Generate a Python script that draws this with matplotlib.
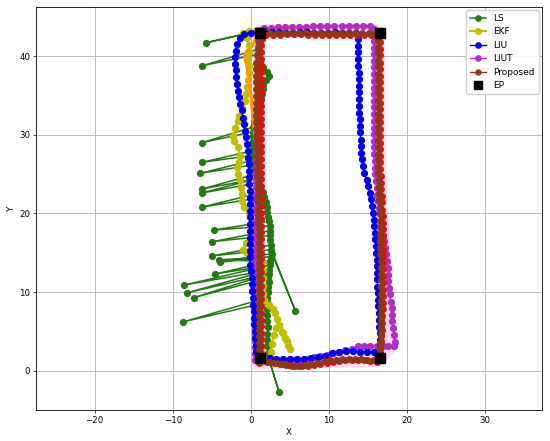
import matplotlib
matplotlib.use("Agg")
import matplotlib.pyplot as plt

# 端点 (EP)
ep_x = [1.2, 16.5, 16.5, 1.2]
ep_y = [42.9, 42.9, 1.6, 1.6]

# 背景の帯 (ピンク)
band_pts = [(1.0, 1.0), (1.0, 43.2), (16.3, 43.2), (16.5, 25.0), (17.3, 10.0),
            (17.8, 3.0), (16.5, 1.3), (1.0, 1.0)]

# LS
ls_pts = [(2.4, 1.2), (3.6, -2.7), (2.3, 1.5), (2.2, 2.3), (2.1, 3.1), (2.0, 3.9), (2.1, 4.7),
          (2.2, 5.5), (2.1, 6.3), (2.0, 7.1), (2.0, 7.9), (2.1, 8.7), (-8.7, 6.2), (2.1, 9.3),
          (2.2, 10.0), (2.2, 10.7), (2.3, 11.3), (2.2, 11.8), (-7.3, 9.3), (2.3, 12.3),
          (-8.2, 9.9), (2.3, 12.8), (-8.5, 10.9), (2.4, 13.4), (-4.6, 12.3), (2.5, 13.9),
          (-4.1, 14.1), (2.6, 14.5), (-4.0, 13.8), (2.7, 14.9), (5.7, 7.6), (2.6, 15.4),
          (-5.0, 14.6), (2.6, 16.0), (2.5, 16.6), (2.5, 17.2), (-5.0, 16.4), (2.4, 17.8),
          (2.4, 18.4), (-4.7, 17.9), (2.3, 19.0), (2.2, 19.6), (2.1, 20.2), (2.0, 20.8),
          (1.9, 21.5), (1.7, 22.1), (-6.3, 20.8), (1.5, 22.7), (1.2, 23.3), (0.9, 23.9),
          (-6.3, 22.6), (0.7, 24.4), (-6.3, 23.1), (0.6, 25.0), (0.5, 25.6), (0.4, 26.2),
          (-6.5, 25.1), (0.4, 26.8), (0.3, 27.4), (-6.3, 26.5), (0.3, 28.0), (0.3, 28.6),
          (0.3, 29.2), (0.3, 29.8), (0.3, 30.4), (-6.3, 29.0), (0.3, 31.0), (0.4, 31.6),
          (0.6, 32.2), (0.8, 32.8), (1.0, 33.4), (1.2, 34.0), (1.3, 34.6), (1.4, 35.2),
          (1.5, 35.8), (1.6, 36.4), (1.9, 37.0), (2.3, 37.5), (2.0, 38.0), (1.5, 38.6),
          (1.2, 39.2), (1.1, 39.8), (1.1, 40.3), (-6.2, 38.8), (1.0, 40.9), (1.0, 41.5),
          (1.0, 42.1), (1.0, 42.7), (1.1, 43.2), (-5.8, 41.7), (1.2, 43.3)]

# EKF
ekf_pts = [(2.5, 1.4), (2.6, 2.4), (2.7, 3.4), (2.9, 4.5), (3.2, 5.4), (3.6, 5.5), (4.0, 4.9),
           (4.4, 4.1), (4.8, 3.3), (5.0, 2.8), (4.6, 3.8), (4.1, 4.8), (3.6, 5.8), (3.3, 6.6),
           (3.1, 7.3), (2.8, 7.9), (2.3, 8.4), (1.7, 9.0), (1.5, 9.8), (1.5, 10.8), (1.6, 11.8),
           (1.6, 12.8), (1.5, 13.8), (1.0, 14.6), (-0.5, 15.0), (-1.0, 15.4), (-0.6, 16.3),
           (0.1, 17.1), (0.4, 18.0), (0.3, 19.0), (-0.2, 20.0), (-0.9, 20.8), (-1.1, 21.6),
           (-1.2, 22.5), (-1.3, 23.3), (-1.4, 24.2), (-1.6, 25.0), (-1.75, 25.9), (-1.5, 26.6),
           (-1.4, 27.3), (-1.6, 28.4), (-2.2, 29.2), (-2.3, 29.8), (-2.0, 30.9), (-1.7, 31.8),
           (-1.5, 32.4), (-1.1, 33.4), (-0.8, 34.3), (-0.6, 35.2), (-0.5, 36.1), (-0.4, 37.0),
           (-0.3, 37.9), (-0.3, 38.8), (-0.4, 39.6), (-0.3, 40.5), (-0.3, 41.4), (-0.5, 42.3),
           (-1.0, 43.0), (-0.2, 43.2), (0.8, 43.3)]

# オレンジの線
orange_pts = [(1.5, 0.8), (1.5, 3.0), (1.4, 6.0), (1.4, 9.0), (1.4, 12.0), (1.4, 15.0),
              (1.3, 18.0), (1.2, 21.0), (1.0, 24.0), (0.8, 27.0), (0.5, 30.0), (0.2, 33.0),
              (-0.1, 36.0), (-0.5, 38.8), (-0.8, 40.0), (-0.4, 40.8), (0.3, 41.5), (0.8, 42.5)]

# LIU
liu_pts = [(1.1, 1.6), (0.7, 2.5), (0.6, 3.3), (0.5, 4.2), (0.5, 5.0), (0.4, 5.9), (0.4, 6.7),
           (0.4, 7.6), (0.3, 8.4), (0.3, 9.3), (0.2, 10.1), (0.1, 11.0), (0.1, 11.8), (0.0, 12.7),
           (-0.1, 13.5), (-0.1, 14.4), (-0.1, 15.2), (-0.1, 16.1), (-0.1, 16.9), (-0.1, 17.8),
           (-0.1, 18.6), (-0.1, 19.5), (-0.1, 20.3), (-0.1, 21.2), (-0.1, 22.0), (-0.15, 22.9),
           (-0.2, 23.7), (-0.2, 24.6), (-0.2, 25.4), (-0.3, 26.3), (-0.35, 27.1), (-0.4, 28.0),
           (-0.5, 28.8), (-0.6, 29.7), (-0.7, 30.5), (-0.85, 31.4), (-1.0, 32.2), (-1.2, 33.1),
           (-1.35, 33.9), (-1.5, 34.8), (-1.6, 35.6), (-1.75, 36.5), (-1.85, 37.3), (-1.9, 38.2),
           (-2.0, 39.0), (-2.0, 39.9), (-1.9, 40.7), (-1.8, 41.6), (-1.4, 42.3), (-0.9, 42.8),
           (0.0, 43.0), (0.9, 43.0), (1.8, 43.1), (2.7, 43.1), (3.6, 43.1), (4.5, 43.0),
           (5.4, 43.0), (6.3, 43.1), (7.2, 43.1), (8.1, 43.0), (9.0, 43.0), (9.9, 43.0),
           (10.8, 43.1), (11.7, 43.0), (12.6, 43.0), (13.4, 42.9),
           (13.7, 42.2), (13.7, 41.3), (13.7, 40.5), (13.75, 39.6), (13.75, 38.8), (13.8, 37.9),
           (13.8, 37.1), (13.8, 36.2), (13.85, 35.4), (13.85, 34.5), (13.9, 33.7), (13.9, 32.8),
           (13.95, 32.0), (13.95, 31.1), (14.0, 30.3), (14.05, 29.4), (14.1, 28.6), (14.15, 27.7),
           (14.2, 26.9), (14.35, 26.0), (14.5, 25.2), (14.8, 24.3), (15.0, 23.5), (15.2, 22.6),
           (15.35, 21.8), (15.5, 20.9), (15.6, 20.1), (15.7, 19.2), (15.8, 18.4), (15.9, 17.5),
           (15.95, 16.7), (16.0, 15.8), (16.05, 15.0), (16.1, 14.1), (16.1, 13.3), (16.15, 12.4),
           (16.2, 11.6), (16.2, 10.7), (16.25, 9.9), (16.3, 9.0), (16.3, 8.2), (16.35, 7.3),
           (16.4, 6.5), (16.45, 5.6), (16.5, 4.8), (16.5, 3.9), (16.5, 3.1), (16.5, 2.3),
           (15.7, 2.4), (14.9, 2.4), (14.0, 2.4), (13.1, 2.5), (12.2, 2.5), (11.3, 2.4),
           (10.4, 2.2), (9.5, 1.9), (8.6, 1.7), (7.7, 1.6), (6.8, 1.5), (5.9, 1.5), (5.0, 1.45),
           (4.1, 1.5), (3.2, 1.55), (2.4, 1.6)]

# LIUT
liut_pts = [(0.5, 1.3), (0.5, 2.1), (0.5, 3.0), (0.5, 3.8), (0.5, 4.7), (0.5, 5.5), (0.5, 6.4),
            (0.5, 7.2), (0.5, 8.1), (0.5, 8.9), (0.5, 9.8), (0.5, 10.6), (0.5, 11.5), (0.5, 12.3),
            (0.5, 13.2), (0.5, 14.0), (0.5, 14.9), (0.6, 15.7), (0.6, 16.6), (0.6, 17.4),
            (0.6, 18.3), (0.6, 19.1), (0.6, 20.0), (0.6, 20.8), (0.7, 21.7), (0.7, 22.5),
            (0.7, 23.4), (0.7, 24.2), (0.7, 25.1), (0.7, 25.9), (0.7, 26.8), (0.8, 27.6),
            (0.8, 28.5), (0.8, 29.3), (0.8, 30.2), (0.8, 31.0), (0.8, 31.9), (0.8, 32.7),
            (0.9, 33.6), (0.9, 34.4), (0.9, 35.3), (0.9, 36.1), (0.9, 37.0), (0.9, 37.8),
            (0.9, 38.7), (0.9, 39.5), (0.9, 40.4), (0.9, 41.2), (0.9, 42.1), (1.0, 42.9),
            (1.7, 43.6), (2.6, 43.6), (3.5, 43.7), (4.4, 43.7), (5.3, 43.7), (6.2, 43.7),
            (7.1, 43.7), (8.0, 43.8), (8.9, 43.8), (9.8, 43.8), (10.7, 43.8), (11.6, 43.9),
            (12.5, 43.9), (13.4, 43.9), (14.3, 43.9), (15.2, 43.9), (15.8, 43.5),
            (15.8, 42.8), (15.8, 42.0), (15.8, 41.1), (15.8, 40.3), (15.8, 39.4), (15.8, 38.6),
            (15.8, 37.7), (15.8, 36.9), (15.8, 36.0), (15.8, 35.2), (15.8, 34.3), (15.8, 33.5),
            (15.8, 32.6), (15.8, 31.8), (15.8, 30.9), (15.8, 30.1), (15.8, 29.2), (15.8, 28.4),
            (15.8, 27.5), (15.85, 26.7), (15.9, 25.8), (15.9, 25.0), (16.0, 24.1), (16.1, 23.3),
            (16.2, 22.4), (16.3, 21.6), (16.4, 20.7), (16.5, 19.9), (16.6, 19.0), (16.7, 18.2),
            (16.85, 17.3), (17.0, 16.5), (17.15, 15.6), (17.3, 14.8), (17.4, 13.9), (17.5, 13.1),
            (17.55, 12.2), (17.6, 11.4), (17.7, 10.5), (17.8, 9.7), (17.9, 8.8), (18.0, 8.0),
            (18.05, 7.1), (18.1, 6.3), (18.2, 5.4), (18.3, 4.6), (18.4, 3.7),
            (18.3, 3.1), (17.6, 3.2), (16.9, 3.2), (16.1, 3.2), (15.3, 3.2), (14.5, 3.2),
            (13.7, 3.1), (12.9, 2.8), (12.1, 2.6), (11.3, 2.4), (10.5, 2.2), (9.7, 2.0),
            (8.9, 1.9), (8.1, 1.7), (7.3, 1.5), (6.5, 1.4), (5.7, 1.3), (4.9, 1.3), (4.1, 1.3),
            (3.3, 1.3), (2.5, 1.3), (1.7, 1.3)]

# 赤の点列
red_pts = [(1.3, 1.4), (1.35, 2.3), (1.3, 3.1), (1.35, 4.0), (1.3, 4.8), (1.35, 5.7), (1.3, 6.5),
           (1.35, 7.4), (1.3, 8.2), (1.35, 9.1), (1.3, 9.9), (1.35, 10.8), (1.3, 11.6),
           (1.35, 12.5), (1.3, 13.3), (1.35, 14.2), (1.3, 15.0), (1.35, 15.9), (1.3, 16.7),
           (1.35, 17.6), (1.3, 18.4), (1.35, 19.3), (1.3, 20.1), (1.35, 21.0), (1.3, 21.8),
           (1.35, 22.7), (1.3, 23.5), (1.35, 24.4), (1.3, 25.2), (1.35, 26.1), (1.3, 26.9),
           (1.35, 27.8), (1.3, 28.6), (1.35, 29.5), (1.3, 30.3), (1.35, 31.2), (1.3, 32.0),
           (1.35, 32.9), (1.3, 33.7), (1.35, 34.6), (1.3, 35.4), (1.35, 36.3), (1.3, 37.1),
           (1.35, 38.0), (1.3, 38.8), (1.35, 39.7), (1.3, 40.5), (1.35, 41.4), (1.4, 42.2),
           (1.9, 42.7), (2.8, 42.7), (3.7, 42.7), (4.6, 42.8), (5.5, 42.8), (6.4, 42.8),
           (7.3, 42.7), (8.2, 42.7), (9.1, 42.7), (10.0, 42.7), (10.9, 42.7), (11.8, 42.7),
           (12.7, 42.7), (13.6, 42.7), (14.5, 42.7), (15.4, 42.7), (16.3, 42.6),
           (16.5, 41.8), (16.5, 40.9), (16.5, 40.1), (16.5, 39.2), (16.5, 38.4), (16.5, 37.5),
           (16.5, 36.7), (16.5, 35.8), (16.5, 35.0), (16.5, 34.1), (16.5, 33.3), (16.5, 32.4),
           (16.5, 31.6), (16.5, 30.7), (16.5, 29.9), (16.5, 29.0), (16.5, 28.2), (16.5, 27.3),
           (16.5, 26.5), (16.5, 25.6), (16.6, 24.8), (16.65, 23.9), (16.7, 23.1), (16.75, 22.2),
           (16.8, 21.4), (16.8, 20.5), (16.85, 19.7), (16.85, 18.8), (16.9, 18.0), (16.9, 17.1),
           (16.9, 16.3), (16.9, 15.4), (16.9, 14.6), (16.9, 13.7), (16.9, 12.9), (16.9, 12.0),
           (16.9, 11.2), (16.9, 10.3), (16.9, 9.5), (16.85, 8.6), (16.85, 7.8), (16.8, 6.9),
           (16.8, 6.1), (16.75, 5.2), (16.7, 4.4), (16.6, 3.5), (16.5, 2.7), (16.4, 1.8),
           (16.1, 1.1), (15.3, 1.2), (14.5, 1.3), (13.7, 1.4), (12.9, 1.4), (12.1, 1.3),
           (11.3, 1.2), (10.5, 1.1), (9.7, 1.0), (8.9, 0.85), (8.1, 0.7), (7.3, 0.6),
           (6.5, 0.55), (5.7, 0.6), (4.9, 0.7), (4.1, 0.85), (3.3, 0.95), (2.5, 1.05)]

# 提案手法 (Proposed)
prop_pts = [(1.0, 1.0), (1.0, 1.8), (1.0, 2.7), (1.0, 3.5), (1.0, 4.4), (1.0, 5.2), (1.0, 6.1),
            (1.0, 6.9), (1.0, 7.8), (1.0, 8.6), (1.0, 9.5), (1.0, 10.3), (1.0, 11.2), (1.0, 12.0),
            (1.0, 12.9), (1.0, 13.7), (1.0, 14.6), (1.0, 15.4), (1.0, 16.3), (1.0, 17.1),
            (1.0, 18.0), (0.95, 18.8), (0.95, 19.7), (0.9, 20.5), (0.9, 21.4), (0.9, 22.2),
            (0.85, 23.1), (0.85, 23.9), (0.8, 24.8), (0.8, 25.6), (0.8, 26.5), (0.75, 27.3),
            (0.75, 28.2), (0.7, 29.0), (0.7, 29.9), (0.7, 30.7), (0.65, 31.6), (0.65, 32.4),
            (0.6, 33.3), (0.6, 34.1), (0.6, 35.0), (0.6, 35.8), (0.6, 36.7), (0.6, 37.5),
            (0.6, 38.4), (0.7, 39.2), (0.8, 40.1), (0.9, 40.9), (1.0, 41.8), (1.1, 42.6),
            (1.6, 42.9), (2.5, 42.9), (3.4, 42.9), (4.3, 43.0), (5.2, 43.0), (6.1, 43.0),
            (7.0, 43.0), (7.9, 42.9), (8.8, 42.9), (9.7, 42.9), (10.6, 42.9), (11.5, 42.9),
            (12.4, 42.9), (13.3, 42.9), (14.2, 42.9), (15.1, 42.9), (16.0, 42.8),
            (16.3, 42.1), (16.3, 41.2), (16.3, 40.4), (16.3, 39.5), (16.3, 38.7), (16.3, 37.8),
            (16.3, 37.0), (16.3, 36.1), (16.3, 35.3), (16.3, 34.4), (16.3, 33.6), (16.3, 32.7),
            (16.3, 31.9), (16.3, 31.0), (16.3, 30.2), (16.3, 29.3), (16.3, 28.5), (16.3, 27.6),
            (16.3, 26.8), (16.3, 25.9), (16.3, 25.1), (16.35, 24.2), (16.4, 23.4), (16.4, 22.5),
            (16.45, 21.7), (16.5, 20.8), (16.5, 20.0), (16.5, 19.1), (16.5, 18.3), (16.5, 17.4),
            (16.55, 16.6), (16.55, 15.7), (16.55, 14.9), (16.6, 14.0), (16.6, 13.2), (16.6, 12.3),
            (16.6, 11.5), (16.6, 10.6), (16.6, 9.8), (16.6, 8.9), (16.6, 8.1), (16.6, 7.2),
            (16.6, 6.4), (16.6, 5.5), (16.6, 4.7), (16.6, 3.8), (16.5, 3.0), (16.4, 2.1),
            (15.7, 1.3), (14.9, 1.4), (14.1, 1.5), (13.3, 1.5), (12.5, 1.5), (11.7, 1.45),
            (10.9, 1.4), (10.1, 1.3), (9.3, 1.2), (8.5, 1.0), (7.7, 0.85), (6.9, 0.7),
            (6.1, 0.6), (5.3, 0.65), (4.5, 0.75), (3.7, 0.9), (2.9, 1.0), (2.1, 1.1)]

plt.rcParams['font.family'] = ['DejaVu Sans']
plt.rcParams['font.size'] = 6.2

fig = plt.figure(figsize=(5.5, 4.41), dpi=100)
ax = fig.add_axes([0.0655, 0.0703, 0.9205, 0.9145])

bx, by = zip(*band_pts)
ax.plot(bx, by, color='#ff66dd', lw=9, alpha=0.25, solid_joinstyle='round', zorder=1)

x, y = zip(*ls_pts)
ax.plot(x, y, '-o', color='#237a14', lw=1.1, ms=4.2, label='LS', zorder=2)
x, y = zip(*ekf_pts)
ax.plot(x, y, '-o', color='#bfbf00', lw=1.5, ms=4.4, label='EKF', zorder=3)
x, y = zip(*orange_pts)
ax.plot(x, y, '-', color='#ff9900', lw=2.5, zorder=3)
x, y = zip(*liut_pts)
ax.plot(x, y, '-o', color='#b02ec8', lw=1.0, ms=4.2, label='LIUT', zorder=4)
x, y = zip(*liu_pts)
ax.plot(x, y, '-o', color='#0000ee', lw=1.0, ms=4.2, label='LIU', zorder=5)
x, y = zip(*red_pts)
ax.plot(x, y, '-o', color='#dd1111', lw=1.0, ms=4.0, zorder=6)
x, y = zip(*prop_pts)
ax.plot(x, y, '-o', color='#8b3a14', lw=1.0, ms=4.0, label='Proposed', zorder=7)
ax.plot(ep_x, ep_y, 's', color='black', ms=7, label='EP', zorder=8)

ax.set_xlim(-27.5, 37.3)
ax.set_ylim(-5.0, 46.3)
ax.set_xticks([-20, -10, 0, 10, 20, 30])
ax.set_yticks([0, 10, 20, 30, 40])
ax.grid(True, color='#b8b8b8', lw=0.7)
ax.set_axisbelow(True)
ax.tick_params(length=2.2, width=0.5, pad=2)
for s in ax.spines.values():
    s.set_linewidth(0.6)
ax.set_xlabel('X', labelpad=2)
ax.set_ylabel('Y', labelpad=2)

h, l = ax.get_legend_handles_labels()
order = [l.index(n) for n in ['LS', 'EKF', 'LIU', 'LIUT', 'Proposed', 'EP']]
ax.legend([h[i] for i in order], [l[i] for i in order], loc='upper right', fontsize=6.5,
          markerscale=0.9, handlelength=1.8, borderaxespad=0.4, framealpha=0.9)

fig.savefig('out.png', dpi=100)
